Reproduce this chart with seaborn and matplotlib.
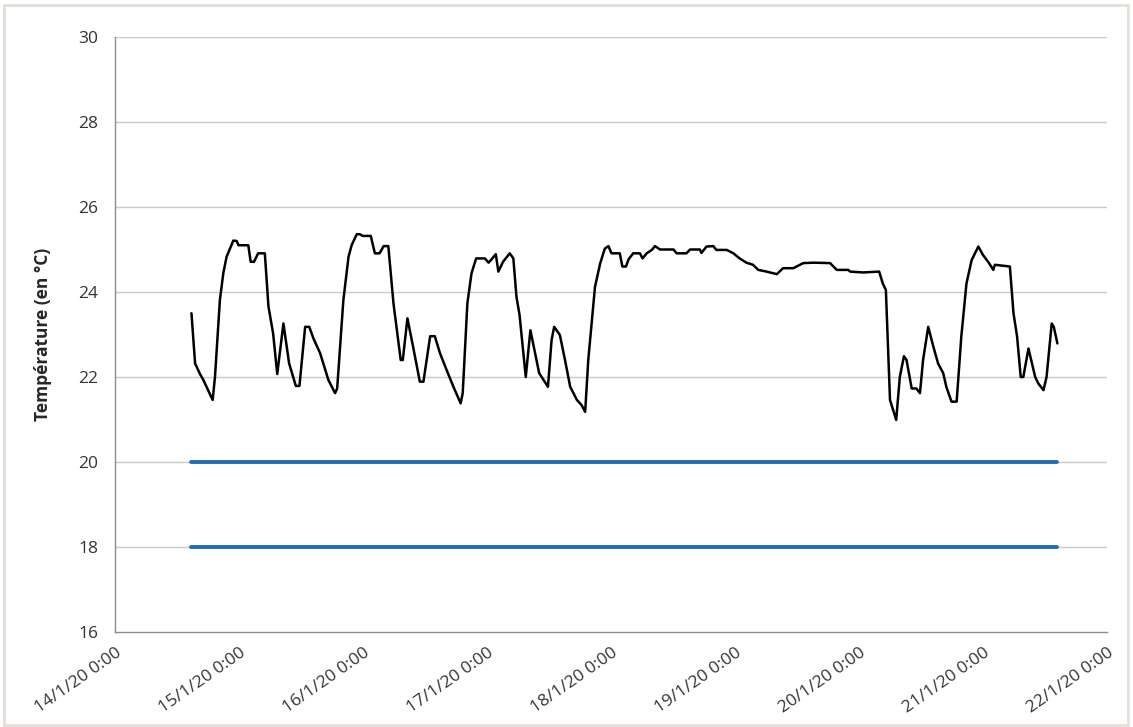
import numpy as np
import pandas as pd
import matplotlib
matplotlib.use("Agg")
import matplotlib.pyplot as plt
import matplotlib.dates as mdates
from matplotlib.patches import Rectangle
import seaborn as sns

hours = [14.8, 15.5, 16.45, 17.1, 18.9, 19.35, 20.3, 20.96, 21.6, 22.9, 23.55, 23.9,
         25.8, 26.26, 26.9, 27.7, 29.0, 29.7, 30.6, 31.4, 32.6, 33.7, 35.0, 35.7,
         36.8, 37.6, 38.4, 39.7, 41.3, 42.6, 43.0, 44.2, 45.2, 45.8, 46.8, 47.4,
         47.9, 49.5, 50.3, 51.2, 52.0, 52.9, 53.9, 55.3, 55.7, 56.6, 57.7, 59.0,
         59.7, 61.0, 61.9, 62.9, 64.2, 65.5, 66.9, 67.3, 68.2, 69.0, 69.9, 71.6,
         72.3, 72.9, 73.7, 74.2, 75.1, 76.4, 77.1, 77.7, 78.3, 79.5, 80.4, 82.1,
         83.8, 84.5, 85.0, 86.1, 87.1, 88.1, 89.4, 90.3, 91.0, 91.6, 92.9, 93.9,
         94.8, 95.5, 96.1, 97.7, 98.2, 98.9, 99.4, 100.3, 101.6, 102.1, 102.9, 103.9,
         104.5, 105.5, 108.1, 108.7, 110.6, 111.3, 113.2, 113.5, 114.5, 115.8, 116.4,
         118.4, 119.7, 120.9, 122.2, 123.5, 124.5, 126.1, 128.1, 129.3, 131.3, 133.2,
         135.2, 138.4, 139.7, 141.9, 142.3, 144.8, 147.9, 148.6, 149.2, 150.0, 151.2,
         151.9, 152.7, 153.2, 154.2, 155.1, 155.8, 156.4, 157.4, 158.4, 159.3, 160.3,
         160.9, 161.9, 162.9, 163.8, 164.8, 165.8, 167.1, 168.0, 169.0, 170.0, 170.3,
         173.2, 173.9, 174.6, 175.3, 175.8, 176.8, 178.1, 178.7, 179.7, 180.3, 181.3,
         181.7, 182.4]
temps = [23.5, 22.32, 22.07, 21.93, 21.46, 22.0, 23.81, 24.44, 24.83, 25.21, 25.2, 25.1,
         25.1, 24.71, 24.71, 24.91, 24.91, 23.66, 23.03, 22.07, 23.26, 22.32, 21.79, 21.79,
         23.18, 23.18, 22.91, 22.56, 21.93, 21.62, 21.73, 23.81, 24.83, 25.1, 25.36, 25.36,
         25.32, 25.32, 24.91, 24.91, 25.08, 25.08, 23.73, 22.4, 22.4, 23.38, 22.71, 21.89,
         21.89, 22.96, 22.96, 22.56, 22.16, 21.77, 21.38, 21.62, 23.73, 24.44, 24.79, 24.79,
         24.69, 24.77, 24.89, 24.48, 24.71, 24.91, 24.79, 23.89, 23.46, 22.0, 23.1, 22.09,
         21.77, 22.87, 23.18, 22.99, 22.4, 21.77, 21.46, 21.34, 21.18, 22.4, 24.12, 24.67,
         25.02, 25.08, 24.91, 24.91, 24.6, 24.6, 24.77, 24.91, 24.91, 24.79, 24.91, 24.99,
         25.08, 25.0, 25.0, 24.91, 24.91, 25.0, 25.0, 24.92, 25.07, 25.08, 24.99,
         24.99, 24.91, 24.79, 24.69, 24.64, 24.52, 24.48, 24.42, 24.56, 24.56, 24.68,
         24.69, 24.68, 24.52, 24.52, 24.48, 24.46, 24.48, 24.2, 24.05, 21.46, 20.99,
         22.0, 22.49, 22.4, 21.73, 21.73, 21.62, 22.4, 23.18, 22.71, 22.32, 22.09,
         21.77, 21.42, 21.42, 22.95, 24.2, 24.75, 25.07, 24.87, 24.71, 24.52, 24.64,
         24.6, 23.5, 22.95, 22.0, 22.0, 22.67, 22.0, 21.85, 21.69, 22.0, 23.26,
         23.18, 22.79]

# comfort thresholds (°C)
threshold_low = 18
threshold_high = 20

start = pd.Timestamp("2020-01-14 00:00")
df = pd.DataFrame({"time": start + pd.to_timedelta(hours, unit="h"), "temp": temps})
lim_df = pd.DataFrame({
    "time": [df["time"].iloc[0], df["time"].iloc[-1]] * 2,
    "temp": [threshold_high, threshold_high, threshold_low, threshold_low],
    "seuil": ["haut", "haut", "bas", "bas"],
})

sns.set_style("white")
plt.rcParams["font.family"] = ["Open Sans", "DejaVu Sans"]

fig = plt.figure(figsize=(11.33, 7.27), dpi=100)
ax = fig.add_axes([115 / 1133, 1 - 632 / 727, 992 / 1133, 595 / 727])

grid_c = "#cdc9bf"
for yv in range(18, 31, 2):
    ax.axhline(yv, color=grid_c, lw=1, zorder=0)

sns.lineplot(data=lim_df, x="time", y="temp", units="seuil", estimator=None,
             color="#1f6fb8", lw=2.8, ax=ax)
sns.lineplot(data=df, x="time", y="temp", color="black", lw=1.8, ax=ax)

ax.set_ylim(16, 30)
ax.set_xlim(start, start + pd.Timedelta(days=8))
ax.set_yticks(range(16, 31, 2))
ticks = pd.date_range(start, periods=9, freq="D")
ax.set_xticks(ticks)
ax.set_xticklabels([f"{t.day}/{t.month}/20 0:00" for t in ticks], rotation=35,
                   ha="right", rotation_mode="anchor")

for s in ["top", "right"]:
    ax.spines[s].set_visible(False)
for s in ["left", "bottom"]:
    ax.spines[s].set_color("#8c8c8c")
    ax.spines[s].set_linewidth(1)
ax.tick_params(axis="x", direction="inout", length=9, width=1, color="#8c8c8c",
               labelsize=12.5, labelcolor="#333333", pad=5)
ax.tick_params(axis="y", length=0, labelsize=12.5, labelcolor="#333333", pad=12)

ax.set_xlabel("")
ax.set_ylabel("Température (en °C)", fontsize=12.5, fontweight="bold", labelpad=19)

fig.patches.append(Rectangle((4 / 1133, 2 / 727), 1124 / 1133, 720 / 727,
                             transform=fig.transFigure, fill=False,
                             edgecolor="#e3e0d9", lw=2))

fig.savefig("out.png", dpi=100, facecolor="white")
